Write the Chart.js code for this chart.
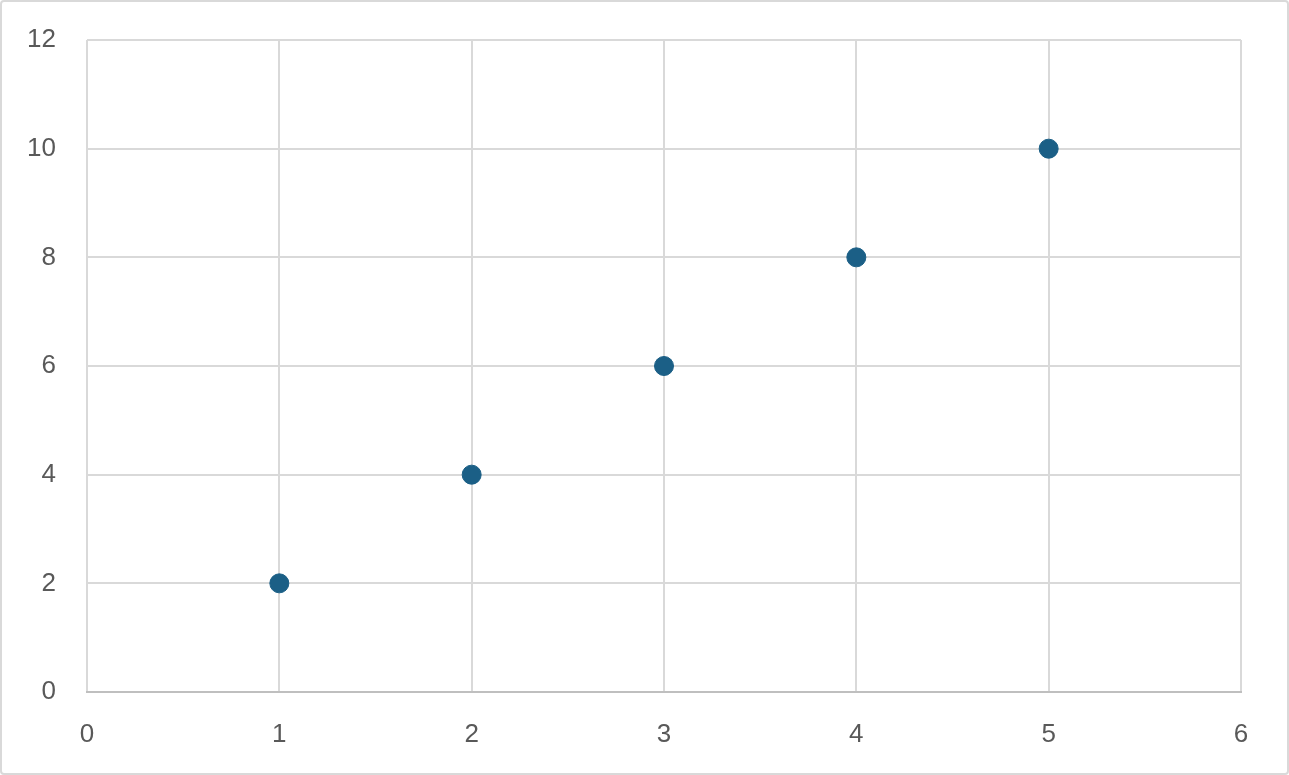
<!DOCTYPE html>
<html>
<head>
<meta charset="utf-8">
<script src="https://cdn.jsdelivr.net/npm/chart.js@4"></script>
<style>
  html, body { margin: 0; padding: 0; background: #fff; }
  #wrap { position: relative; width: 1289px; height: 775px; }
  #frame { position: absolute; left: 0; top: 0; width: 1289px; height: 775px; box-sizing: border-box;
           border: 2px solid #d9d9d9; border-radius: 4px; pointer-events: none; }
</style>
</head>
<body>
<div id="wrap">
  <canvas id="chart" width="1289" height="775"></canvas>
  <div id="frame"></div>
</div>
<script>
// valeurs
const xValues = [1, 2, 3, 4, 5];
const yValues = [2, 4, 6, 8, 10];
const pointColor = '#1b5f86';

const points = xValues.map((x, i) => ({ x: x, y: yValues[i] }));

const ctx = document.getElementById('chart').getContext('2d');
new Chart(ctx, {
    type: 'scatter',
    data: {
        datasets: [{
            label: 'Series1',
            data: points,
            backgroundColor: pointColor,
            borderColor: pointColor,
            pointRadius: 9.5,
            pointBorderWidth: 1
        }]
    },
    options: {
        responsive: false,
        animation: false,
        layout: { padding: { left: 0, top: 40, right: 48, bottom: 0 } },
        plugins: { legend: { display: false }, tooltip: { enabled: false } },
        scales: {
            x: {
                type: 'linear',
                min: 0, max: 6,
                ticks: { stepSize: 1, color: '#595959', font: { family: 'Liberation Sans', size: 26 }, padding: 27 },
                grid: { color: '#d9d9d9', lineWidth: 2, drawTicks: false },
                border: { color: '#bfbfbf', width: 2 },
                afterFit: s => { s.height = 83; s.paddingLeft = 0; s.paddingRight = 0; }
            },
            y: {
                min: 0, max: 12,
                ticks: { stepSize: 2, color: '#595959', font: { family: 'Liberation Sans', size: 26 }, padding: 31 },
                grid: { color: '#d9d9d9', lineWidth: 2, drawTicks: false },
                border: { display: false },
                afterFit: s => { s.width = 87; s.paddingTop = 0; s.paddingBottom = 0; }
            }
        }
    }
});
</script>
</body>
</html>
